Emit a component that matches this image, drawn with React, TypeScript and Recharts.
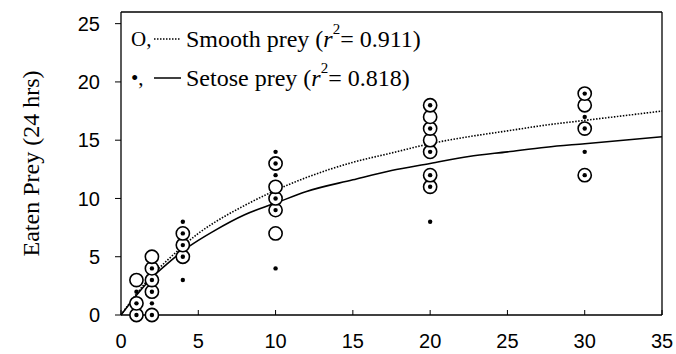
import { ComposedChart, Line, Scatter, XAxis, YAxis, ReferenceLine } from 'recharts';

const smoothX = [1, 1, 1, 2, 2, 2, 2, 2, 4, 4, 4, 10, 10, 10, 10, 10, 20, 20, 20, 20, 20, 20, 20, 30, 30, 30, 30];
const smoothY = [0, 1, 3, 0, 2, 3, 4, 5, 5, 6, 7, 7, 9, 10, 11, 13, 11, 12, 14, 15, 16, 17, 18, 12, 16, 18, 19];

const setoseX = [1, 1, 1, 2, 2, 2, 2, 2, 4, 4, 4, 4, 4, 10, 10, 10, 10, 10, 10, 20, 20, 20, 20, 20, 20, 30, 30, 30, 30, 30];
const setoseY = [0, 1, 2, 0, 1, 2, 3, 4, 3, 5, 6, 7, 8, 4, 9, 10, 12, 13, 14, 8, 11, 12, 14, 16, 18, 12, 14, 16, 17, 19];

// fitted curves
const curveX = [0, 1, 2, 3, 4, 5, 6, 8, 10, 12, 15, 17.5, 20, 22.5, 25, 27.5, 30, 32.5, 35];
const smoothFit = [0, 1.8, 3.4, 4.7, 5.9, 7.0, 7.9, 9.4, 10.7, 11.8, 13.1, 13.9, 14.7, 15.3, 15.8, 16.3, 16.7, 17.1, 17.5];
const setoseFit = [0, 1.7, 3.2, 4.4, 5.5, 6.4, 7.2, 8.6, 9.6, 10.6, 11.6, 12.4, 13.0, 13.6, 14.0, 14.4, 14.7, 15.0, 15.3];

const xTicks = [0, 5, 10, 15, 20, 25, 30, 35];
const yTicks = [0, 5, 10, 15, 20, 25];
const X_MAX = 35;
const Y_MAX = 26;

const SANS = '"Liberation Sans", Arial, sans-serif';
const SERIF = '"Liberation Serif", "Times New Roman", serif';

const smoothPts = smoothX.map((x, i) => ({ x, y: smoothY[i] }));
const setosePts = setoseX.map((x, i) => ({ x, y: setoseY[i] }));
const smoothLine = curveX.map((x, i) => ({ x, y: smoothFit[i] }));
const setoseLine = curveX.map((x, i) => ({ x, y: setoseFit[i] }));

const OpenCircle = (p: any) => (
  <circle cx={p.cx} cy={p.cy} r={6.6} fill="#fff" stroke="#000" strokeWidth={1.6} />
);
const Dot = (p: any) => <circle cx={p.cx} cy={p.cy} r={2.2} fill="#000" />;

const XTick = (p: any) => (
  <g>
    <line x1={p.x} x2={p.x} y1={p.y} y2={p.y - 5} stroke="#000" />
    <text x={p.x} y={p.y + 33} textAnchor="middle" fontFamily={SANS} fontSize={20} fill="#000">
      {p.payload.value}
    </text>
  </g>
);

function LegendRow({ y, marker, dashed, label, r2 }: any) {
  return (
    <g>
      <text x={131} y={y} dominantBaseline="central" fontFamily={SERIF} fontSize={21} fill="#000">
        {marker}
      </text>
      <line x1={154} x2={181} y1={y} y2={y} stroke="#000" strokeWidth={dashed ? 1.3 : 1.5}
        strokeDasharray={dashed ? '1.5 1.5' : undefined} />
      <text x={186} y={y} dominantBaseline="central" fontFamily={SERIF} fontSize={24} fill="#000">
        {label} (<tspan fontStyle="italic">r</tspan>
        <tspan fontSize={15} dy={-10}>2</tspan>
        <tspan dy={10}>= {r2})</tspan>
      </text>
    </g>
  );
}

export default function App() {
  return (
    <div style={{ position: 'absolute', left: 0, top: 0, width: 676, height: 354, background: '#fff' }}>
      <ComposedChart width={676} height={354} margin={{ top: 12, right: 14, bottom: 0, left: 0 }}>
        <XAxis
          type="number"
          dataKey="x"
          domain={[0, X_MAX]}
          ticks={xTicks}
          height={39}
          tickSize={0}
          tickMargin={0}
          axisLine={{ stroke: '#000', strokeWidth: 1.3 }}
          tickLine={false}
          tick={<XTick />}
        />
        <YAxis
          type="number"
          dataKey="y"
          domain={[0, Y_MAX]}
          ticks={yTicks}
          width={121}
          tickSize={6}
          tickMargin={15}
          axisLine={{ stroke: '#000', strokeWidth: 1.3 }}
          tickLine={{ stroke: '#000' }}
          tick={{ fill: '#000', fontFamily: SANS, fontSize: 20 }}
          label={{
            value: 'Eaten Prey (24 hrs)',
            angle: -90,
            position: 'insideLeft',
            offset: 30,
            style: { textAnchor: 'middle', fontFamily: SERIF, fontSize: 24, fill: '#000' },
          }}
        />
        <ReferenceLine y={Y_MAX} stroke="#000" strokeWidth={1.3} ifOverflow="visible" />
        <ReferenceLine x={X_MAX} stroke="#000" strokeWidth={1.3} ifOverflow="visible" />
        <Line data={smoothLine} dataKey="y" type="monotone" stroke="#000" strokeWidth={1.6}
          strokeDasharray="1.5 1.5" dot={false} isAnimationActive={false} />
        <Line data={setoseLine} dataKey="y" type="monotone" stroke="#000" strokeWidth={1.6}
          dot={false} isAnimationActive={false} />
        <Scatter data={smoothPts} dataKey="y" shape={<OpenCircle />} isAnimationActive={false} />
        <Scatter data={setosePts} dataKey="y" shape={<Dot />} isAnimationActive={false} />
      </ComposedChart>
      <svg width={676} height={354} style={{ position: 'absolute', left: 0, top: 0, pointerEvents: 'none' }}>
        <LegendRow y={39} marker="O," dashed label="Smooth prey" r2="0.911" />
        <LegendRow y={78} marker="•," label="Setose prey" r2="0.818" />
      </svg>
    </div>
  );
}
